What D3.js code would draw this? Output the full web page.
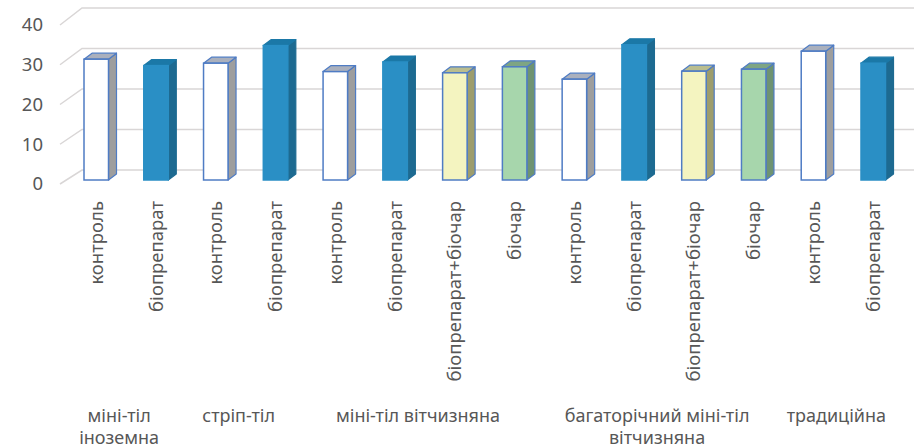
<!DOCTYPE html>
<html>
<head>
<meta charset="utf-8">
<script src="https://cdn.jsdelivr.net/npm/d3@7"></script>
<style>
  html, body { margin: 0; padding: 0; background: #ffffff; }
  svg { display: block; }
  text { font-family: "Noto Sans", "Open Sans", sans-serif; fill: #575757; }
</style>
</head>
<body>
<svg id="chart" width="914" height="448"></svg>
<script>
// Variants along the category axis
const treatments = [
  "контроль", "біопрепарат",
  "контроль", "біопрепарат",
  "контроль", "біопрепарат", "біопрепарат+біочар", "біочар",
  "контроль", "біопрепарат", "біопрепарат+біочар", "біочар",
  "контроль", "біопрепарат"
];

// Tillage system groups (lines as wrapped under the axis) and how many bars each spans
const groupLines = [
  ["міні-тіл", "іноземна"],
  ["стріп-тіл"],
  ["міні-тіл вітчизняна"],
  ["багаторічний міні-тіл", "вітчизняна"],
  ["традиційна"]
];
const groupSizes = [2, 2, 4, 4, 2];

// Measured values
const values = [30.2, 28.6, 29.2, 33.6, 27.1, 29.5, 26.8, 28.3, 25.2, 33.8, 27.2, 27.7, 32.2, 29.2];

const yTicks = [0, 10, 20, 30, 40];

// Face colours per treatment: front, side, top, outline
const palette = {
  "контроль":           { front: "#ffffff", side: "#9e9e9e", top: "#aab0bd", stroke: "#4f7cc4" },
  "біопрепарат":        { front: "#2a8fc5", side: "#1d6a91", top: "#1b78a7", stroke: null },
  "біопрепарат+біочар": { front: "#f4f4c0", side: "#9d9d6d", top: "#b9bd8f", stroke: "#4f7cc4" },
  "біочар":             { front: "#a7d6ac", side: "#6e9372", top: "#7ea583", stroke: "#4f7cc4" }
};

const svg = d3.select("#chart");

// Depth projection of the 3D look
const depth = { dx: 8, dy: -6 };
const wallFrontX = 60, wallBackX = 82;

const x = d3.scaleBand()
  .domain(d3.range(values.length))
  .range([84, 885.5])
  .paddingInner(0.59)
  .paddingOuter(0);

const yBar = d3.scaleLinear().domain([0, 40]).range([180, 20]);
const yBack = d3.scaleLinear().domain([0, 40]).range([170, 8]);
const yFront = d3.scaleLinear().domain([0, 40]).range([184, 25]);

// Gridlines: slanted side wall segment then back wall line
const grid = svg.append("g").attr("class", "grid");
grid.selectAll("path")
  .data(yTicks)
  .join("path")
  .attr("d", d => `M${wallFrontX},${yFront(d)}L${wallBackX},${yBack(d)}L914,${yBack(d)}`)
  .attr("fill", "none")
  .attr("stroke", "#d9d6d6")
  .attr("stroke-width", 1.5);

// Value axis labels
svg.append("g").selectAll("text")
  .data(yTicks)
  .join("text")
  .attr("x", 43)
  .attr("y", d => yFront(d))
  .attr("dy", "0.35em")
  .attr("text-anchor", "end")
  .attr("font-size", 18.5)
  .text(d => d);

// Bars drawn as three faces each
const bars = svg.append("g").selectAll("g")
  .data(values.map((v, i) => ({ v, i, t: treatments[i] })))
  .join("g");

bars.append("path") // side face
  .attr("d", d => {
    const x1 = x(d.i) + x.bandwidth(), y0 = yBar(0), y1 = yBar(d.v);
    return `M${x1},${y0}L${x1 + depth.dx},${y0 + depth.dy}L${x1 + depth.dx},${y1 + depth.dy}L${x1},${y1}Z`;
  })
  .attr("fill", d => palette[d.t].side)
  .attr("stroke", d => palette[d.t].stroke || palette[d.t].side)
  .attr("stroke-width", 1.2)
  .attr("stroke-linejoin", "round");

bars.append("path") // top face
  .attr("d", d => {
    const x0 = x(d.i), x1 = x0 + x.bandwidth(), y1 = yBar(d.v);
    return `M${x0},${y1}L${x0 + depth.dx},${y1 + depth.dy}L${x1 + depth.dx},${y1 + depth.dy}L${x1},${y1}Z`;
  })
  .attr("fill", d => palette[d.t].top)
  .attr("stroke", d => palette[d.t].stroke || palette[d.t].top)
  .attr("stroke-width", 1.2)
  .attr("stroke-linejoin", "round");

bars.append("rect") // front face
  .attr("x", d => x(d.i))
  .attr("y", d => yBar(d.v))
  .attr("width", x.bandwidth())
  .attr("height", d => yBar(0) - yBar(d.v))
  .attr("fill", d => palette[d.t].front)
  .attr("stroke", d => palette[d.t].stroke || palette[d.t].front)
  .attr("stroke-width", 1.5);

// Rotated treatment labels
svg.append("g").selectAll("text")
  .data(treatments)
  .join("text")
  .attr("transform", (d, i) => `translate(${x(i) + x.bandwidth() / 2},201) rotate(-90)`)
  .attr("text-anchor", "end")
  .attr("dy", "0.35em")
  .attr("font-size", 18.5)
  .text(d => d);

// Group labels centred under their bars
let start = 0;
const groups = groupLines.map((lines, g) => {
  const first = start, last = start + groupSizes[g] - 1;
  start += groupSizes[g];
  const cx = (x(first) + x(last) + x.bandwidth()) / 2 - 7;
  return { lines, cx };
});

const gl = svg.append("g").selectAll("text")
  .data(groups)
  .join("text")
  .attr("x", d => d.cx)
  .attr("y", 422)
  .attr("text-anchor", "middle")
  .attr("font-size", 18);

gl.selectAll("tspan")
  .data(d => d.lines.map(l => ({ l, cx: d.cx })))
  .join("tspan")
  .attr("x", d => d.cx)
  .attr("dy", (d, i) => i === 0 ? 0 : 21.5)
  .text(d => d.l);
</script>
</body>
</html>
